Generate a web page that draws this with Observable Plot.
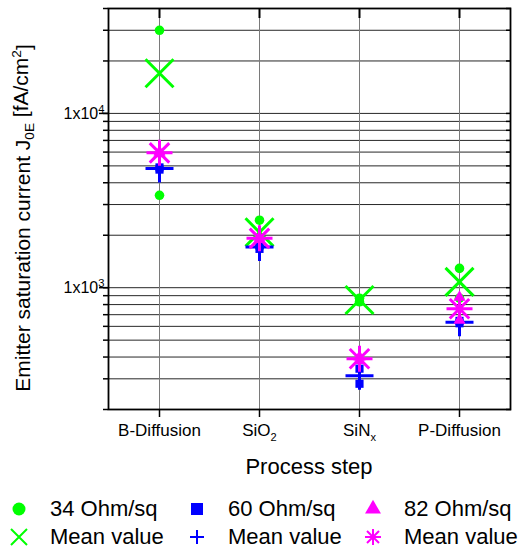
<!DOCTYPE html>
<html><head><meta charset="utf-8">
<script src="https://cdn.jsdelivr.net/npm/d3@7"></script>
<script src="https://cdn.jsdelivr.net/npm/@observablehq/plot@0.6"></script>
<style>
body{margin:0;background:#fff;font-family:"Liberation Sans",Arial,sans-serif;}
#chart{width:531px;}
#chart svg{display:block;}
.legend{display:grid;grid-template-columns:178px 176px 168px;padding-left:9px;font-size:22px;margin-top:13px;color:#000;}
.item{display:flex;align-items:center;height:28px;white-space:nowrap;}
.item svg{margin-right:21px;flex:none;}
</style></head><body>
<div id="chart"></div>
<div class="legend" id="legend"></div>
<script>
// categories (process steps)
const steps = ["B-Diffusion", "SiO_2", "SiN_x", "P-Diffusion"];
// individual measurements per step [fA/cm²]
const j34 = [[30000, 3390], [2440, 1720], [870, 830], [1290, 870]];
const j60 = [[4900, 4760], [1750, 1670], [343, 281], [645, 625]];
const j82 = [[6000, 5870], [1950, 1890], [400, 382], [880, 650]];
// mean values per step
const mean34 = [17000, 2080, 850, 1080];
const mean60 = [4830, 1710, 312, 634];
const mean82 = [5940, 1920, 391, 757];
// y ticks
const yMajor = [1000, 10000];
const yAll = [200, 300, 400, 500, 600, 700, 800, 900, 1000, 2000, 3000, 4000, 5000, 6000, 7000, 8000, 9000, 10000, 20000, 30000, 40000];
const seriesNames = ["34 Ohm/sq", "60 Ohm/sq", "82 Ohm/sq"];
const meanName = "Mean value";
const colors = ["#00ff00", "#0000ff", "#ff00ff"];

const pts = (arr) => steps.flatMap((s, i) => arr[i].map(v => ({step: s, v})));
const means = (arr) => steps.map((s, i) => ({step: s, v: arr[i]}));

const timesSym = {draw(ctx, size) { const r = Math.sqrt(size / Math.PI); ctx.moveTo(-r, -r); ctx.lineTo(r, r); ctx.moveTo(-r, r); ctx.lineTo(r, -r); }};
const plusSym = {draw(ctx, size) { const r = Math.sqrt(size / Math.PI); ctx.moveTo(-r, 0); ctx.lineTo(r, 0); ctx.moveTo(0, -r); ctx.lineTo(0, r); }};
const starSym = {draw(ctx, size) { const r = Math.sqrt(size / Math.PI); const d = r * 0.75; ctx.moveTo(-r, 0); ctx.lineTo(r, 0); ctx.moveTo(0, -r); ctx.lineTo(0, r); ctx.moveTo(-d, -d); ctx.lineTo(d, d); ctx.moveTo(-d, d); ctx.lineTo(d, -d); }};

const font = '"Liberation Sans", Arial, sans-serif';
const plot = Plot.plot({
  width: 531, height: 482,
  marginLeft: 108, marginRight: 21, marginTop: 8, marginBottom: 73,
  style: {fontFamily: font, fontSize: "17px", color: "black", background: "white", overflow: "visible"},
  x: {type: "point", domain: steps, padding: 0.5, label: null},
  y: {type: "log", domain: [200, 40000], label: null},
  marks: [
    Plot.gridY(yAll, {stroke: "black", strokeOpacity: 0.85, strokeWidth: 1}),
    Plot.gridX(steps, {stroke: "#7a7a7a", strokeOpacity: 1, strokeWidth: 1}),
    Plot.frame({stroke: "black", strokeWidth: 1.8}),
    Plot.axisY(yAll, {tickSize: 5, tickFormat: () => "", label: null, strokeWidth: 1.5}),
    Plot.axisY(yMajor, {tickSize: 9, tickPadding: 1, fontSize: 16, label: null, strokeWidth: 1.5,
      tickFormat: d => "1x10^" + Math.round(Math.log10(d))}),
    Plot.axisY(yAll, {anchor: "right", tickSize: -5, tickFormat: () => "", label: null, strokeWidth: 1.5}),
    Plot.axisX({tickSize: 8, tickPadding: 6, fontSize: 17, label: null, strokeWidth: 1.5}),
    Plot.axisX({anchor: "top", tickSize: -9, tickFormat: () => "", label: null, strokeWidth: 2}),
    Plot.dot(pts(j34), {x: "step", y: "v", r: 4.8, symbol: "circle", fill: colors[0]}),
    Plot.dot(means(mean34), {x: "step", y: "v", r: 14, symbol: timesSym, fill: "none", stroke: colors[0], strokeWidth: 3}),
    Plot.dot(pts(j60), {x: "step", y: "v", r: 4.6, symbol: "square", fill: colors[1]}),
    Plot.dot(means(mean60), {x: "step", y: "v", r: 14, symbol: plusSym, fill: "none", stroke: colors[1], strokeWidth: 3}),
    Plot.dot(pts(j82), {x: "step", y: "v", r: 4.5, symbol: "triangle", fill: colors[2]}),
    Plot.dot(means(mean82), {x: "step", y: "v", r: 13, symbol: starSym, fill: "none", stroke: colors[2], strokeWidth: 3})
  ]
});

const svg = d3.select(plot);
// superscripts in y tick labels
svg.selectAll('g[aria-label="y-axis tick label"] text').each(function() {
  const t = this.textContent; const m = t.match(/^(.*)\^(.*)$/);
  if (m) { const s = d3.select(this); s.text(null);
    s.attr("dx", 6);
    s.append("tspan").text(m[1]);
    s.append("tspan").attr("dy", "-0.5em").attr("font-size", "0.7em").text(m[2]); }
});
// subscripts in x tick labels
svg.selectAll('g[aria-label="x-axis tick label"] text').each(function() {
  const t = this.textContent; const m = t.match(/^(.*)_(.*)$/);
  if (m) { const s = d3.select(this); s.text(null);
    s.append("tspan").text(m[1]);
    s.append("tspan").attr("dy", "0.45em").attr("font-size", "0.65em").text(m[2]); }
});
// x axis title
svg.append("text").attr("x", 309).attr("y", 474).attr("text-anchor", "middle")
  .attr("font-size", 22).attr("font-family", font).attr("fill", "black").text("Process step");
// y axis title
const yl = svg.append("text").attr("transform", "translate(30,218) rotate(-90)").attr("text-anchor", "middle")
  .attr("font-size", 21).attr("font-family", font).attr("fill", "black");
yl.append("tspan").text("Emitter saturation current J");
yl.append("tspan").attr("dy", "0.3em").attr("font-size", "0.65em").text("0E");
yl.append("tspan").attr("dy", "-0.3em").text(" [fA/cm");
yl.append("tspan").attr("dy", "-0.5em").attr("font-size", "0.65em").text("2");
yl.append("tspan").attr("dy", "0.5em").text("]");

document.getElementById("chart").appendChild(plot);

// legend
const legendSyms = [
  [d3.symbol(d3.symbolCircle, Math.PI * 6.5 * 6.5)(), colors[0], true],
  [d3.symbol(d3.symbolSquare, 144)(), colors[1], true],
  [d3.symbol(d3.symbolTriangle, 110)(), colors[2], true],
  [d3.symbol(timesSym, Math.PI * 64)(), colors[0], false],
  [d3.symbol(plusSym, Math.PI * 49)(), colors[1], false],
  [d3.symbol(starSym, Math.PI * 64)(), colors[2], false]
];
const labels = [...seriesNames, meanName, meanName, meanName];
const leg = d3.select("#legend");
labels.forEach((lab, i) => {
  const it = leg.append("div").attr("class", "item");
  const s = it.append("svg").attr("width", 20).attr("height", 20).append("path")
    .attr("transform", "translate(10,10)").attr("d", legendSyms[i][0]);
  if (legendSyms[i][2]) s.attr("fill", legendSyms[i][1]);
  else s.attr("fill", "none").attr("stroke", legendSyms[i][1]).attr("stroke-width", 2);
  it.append("span").text(lab);
});
</script>
</body></html>
